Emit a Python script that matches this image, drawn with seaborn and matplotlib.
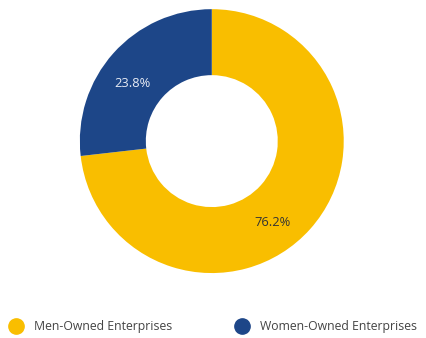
import matplotlib
matplotlib.use("Agg")
import matplotlib.pyplot as plt
from matplotlib.lines import Line2D
import numpy as np
import seaborn as sns

categories = ["Men-Owned Enterprises", "Women-Owned Enterprises"]
# slice sizes as drawn in the reference (arc)
slice_shares = [73.2, 26.8]
# percentages printed on the slices
pct_labels = ["76.2%", "23.8%"]

colors = ["#F9BE00", "#1D4688"]
label_colors = ["#333333", "#e8ecf5"]
# label placement (clockwise degrees from top, radius fraction)
label_angles = [143.4, 306.0]
label_radii = [0.77, 0.745]

sns.set_style("white")
plt.rcParams['font.family'] = ['Open Sans', 'DejaVu Sans']

fig = plt.figure(figsize=(4.27, 3.38), dpi=100)
ax = fig.add_axes([0.187, 0.192, 0.618, 0.781])
wedges, texts = ax.pie(
    slice_shares, colors=colors, startangle=90, counterclock=False,
    wedgeprops=dict(width=0.5, edgecolor="none"))
for lab, c, a, r in zip(pct_labels, label_colors, label_angles, label_radii):
    th = np.deg2rad(a)
    ax.text(r * np.sin(th), r * np.cos(th), lab, ha="center", va="center",
            color=c, fontsize=9.3)
ax.set_xlim(-1, 1)
ax.set_ylim(-1, 1)
ax.set_aspect("equal")

handles = [Line2D([0], [0], marker="o", linestyle="none", markersize=11,
                  markerfacecolor=c, markeredgecolor=c) for c in colors]
fig.legend(handles, categories, loc="center left", bbox_to_anchor=(0.0, 0.033),
           ncol=2, frameon=False, fontsize=8.8, handletextpad=0.45,
           columnspacing=4.75, labelcolor="#444444", borderaxespad=0.0,
           borderpad=0.3)
fig.savefig("out.png", dpi=100, facecolor="white")
